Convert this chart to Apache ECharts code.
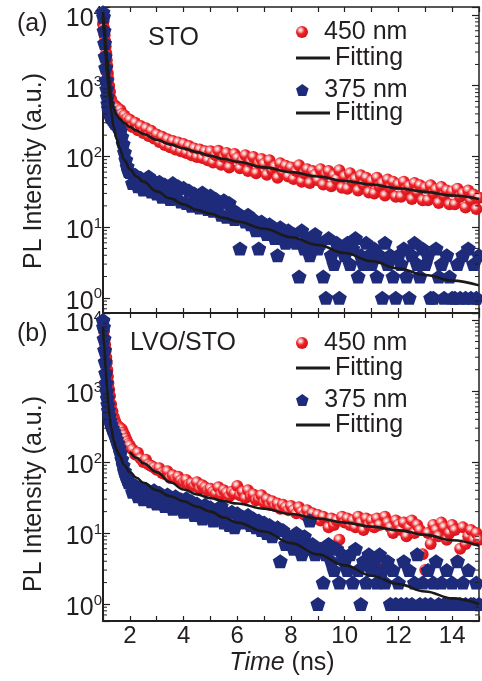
<!DOCTYPE html>
<html>
<head>
<meta charset="utf-8">
<script src="https://cdn.jsdelivr.net/npm/echarts@6/dist/echarts.min.js"></script>
<style>
html, body { margin: 0; padding: 0; background: #fff; }
#chart { width: 482px; height: 681px; }
</style>
</head>
<body>
<div id="chart"></div>
<script>
// sampling times (ns), dense at the start of the decay
var times = [1.00, 1.02, 1.04, 1.06, 1.08, 1.10, 1.12, 1.14, 1.16, 1.18, 1.20, 1.23, 1.26, 1.30,
  1.35, 1.40, 1.45, 1.50, 1.55, 1.60, 1.65, 1.70, 1.75, 1.80, 1.85, 1.90, 1.95,
  2.0, 2.1, 2.2, 2.3, 2.4, 2.5, 2.6, 2.7, 2.8, 2.9,
  3.0, 3.1, 3.2, 3.3, 3.4, 3.5, 3.6, 3.7, 3.8, 3.9,
  4.0, 4.1, 4.2, 4.3, 4.4, 4.5, 4.6, 4.7, 4.8, 4.9,
  5.0, 5.1, 5.2, 5.3, 5.4, 5.5, 5.6, 5.7, 5.8, 5.9,
  6.0, 6.1, 6.2, 6.3, 6.4, 6.5, 6.6, 6.7, 6.8, 6.9,
  7.0, 7.1, 7.2, 7.3, 7.4, 7.5, 7.6, 7.7, 7.8, 7.9,
  8.0, 8.1, 8.2, 8.3, 8.4, 8.5, 8.6, 8.7, 8.8, 8.9,
  9.0, 9.1, 9.2, 9.3, 9.4, 9.5, 9.6, 9.7, 9.8, 9.9,
  10.0, 10.1, 10.2, 10.3, 10.4, 10.5, 10.6, 10.7, 10.8, 10.9,
  11.0, 11.1, 11.2, 11.3, 11.4, 11.5, 11.6, 11.7, 11.8, 11.9,
  12.0, 12.1, 12.2, 12.3, 12.4, 12.5, 12.6, 12.7, 12.8, 12.9,
  13.0, 13.1, 13.2, 13.3, 13.4, 13.5, 13.6, 13.7, 13.8, 13.9,
  14.0, 14.1, 14.2, 14.3, 14.4, 14.5, 14.6, 14.7, 14.8, 14.9,
  15.0];

// (a) STO
var sto450 = [7500, 8200, 6500, 5200, 4300, 3600, 2900, 2300, 1900, 1500, 1250, 1000, 820, 650,
  560, 540, 520, 500, 480, 430, 455, 400, 360, 380, 330, 345, 300,
  330, 260, 300, 235, 270, 215, 250, 195, 230, 180,
  205, 160, 190, 145, 175, 135, 165, 125, 158, 118,
  150, 112, 140, 104, 130, 98, 125, 95, 118, 88,
  118, 82, 104, 120, 76, 98, 112, 70, 95, 108,
  95, 68, 88, 104, 62, 84, 98, 58, 80, 92,
  78, 55, 88, 64, 72, 50, 80, 60, 74, 52,
  70, 48, 62, 75, 44, 58, 66, 42, 62, 55,
  46, 66, 40, 56, 62, 38, 54, 48, 64, 36,
  52, 35, 58, 44, 48, 33, 54, 40, 50, 31,
  45, 30, 50, 38, 42, 28, 47, 36, 44, 27,
  40, 27, 44, 34, 38, 25, 42, 31, 39, 24,
  36, 24, 39, 30, 34, 22, 37, 28, 33, 21,
  32, 21, 35, 27, 30, 19, 33, 24, 29, 18,
  26];
var sto375 = [11000, 9500, 6000, 4000, 2600, 1800, 1200, 900, 700, 560, 480, 430, 390, 360,
  340, 320, 300, 290, 270, 250, 230, 190, 150, 115, 90, 72, 62,
  60, 42, 55, 38, 50, 34, 47, 52, 32, 45,
  30, 44, 27, 40, 35, 25, 42, 28, 38, 23,
  36, 22, 33, 20, 30, 26, 19, 31, 24, 18,
  28, 17, 25, 21, 15, 24, 14, 22, 18, 13,
  16, 5, 14, 12, 15, 11, 13, 9, 5, 12,
  10, 8, 11, 9, 7, 4, 10, 8, 6, 9,
  7, 8, 6, 2, 9, 5, 7, 4, 6, 8,
  5, 6, 2, 1, 7, 4, 3, 6, 1, 5,
  4, 6, 3, 5, 7, 2, 4, 3, 6, 4,
  3, 5, 2, 4, 1, 6, 3, 4, 2, 1,
  4, 3, 5, 2, 1, 4, 6, 3, 2, 5,
  3, 4, 1, 1, 5, 2, 3, 1, 4, 2,
  1, 1, 3, 1, 4, 1, 5, 1, 3, 1,
  4];

// (b) LVO/STO
var lvo450 = [8000, 8500, 7000, 5500, 4500, 3700, 3000, 2500, 2000, 1600, 1300, 1050, 850, 650,
  520, 430, 380, 340, 320, 310, 300, 290, 260, 240, 215, 195, 180,
  170, 150, 128, 135, 112, 100, 108, 92, 88, 84,
  78, 82, 70, 68, 74, 60, 65, 58, 62, 55,
  52, 56, 48, 50, 46, 52, 42, 47, 44, 40,
  42, 38, 36, 44, 35, 40, 37, 33, 38, 36,
  46, 34, 38, 31, 40, 33, 35, 29, 30, 34,
  27, 30, 25, 28, 24, 26, 22, 25, 23, 21,
  24, 21, 19, 23, 20, 18, 21, 17, 19, 16,
  18, 15, 17, 6, 12, 16, 13, 15, 8, 17,
  14, 16, 13, 15, 12, 17, 14, 11, 16, 13,
  15, 12, 16, 13, 4, 17, 14, 12, 10, 15,
  13, 11, 14, 9, 12, 15, 10, 13, 11, 5,
  3, 10, 7, 13, 11, 9, 14, 12, 8, 10,
  13, 11, 4, 6, 12, 7, 9, 11, 8, 10,
  8];
var lvo375 = [10000, 8000, 5500, 3800, 2600, 1800, 1300, 1000, 800, 650, 540, 450, 390, 340,
  300, 270, 240, 210, 185, 160, 135, 110, 90, 75, 65, 58, 52,
  52, 38, 47, 33, 44, 30, 42, 36, 28, 40,
  26, 37, 30, 24, 35, 27, 22, 33, 25, 30,
  20, 31, 23, 28, 18, 26, 21, 16, 25, 19,
  23, 15, 21, 17, 24, 14, 19, 13, 20, 12,
  19, 15, 17, 14, 18, 13, 16, 12, 15, 11,
  14, 10, 13, 9, 11, 12, 4, 11, 7, 9,
  8, 6, 10, 7, 5, 9, 6, 15, 7, 5,
  1, 6, 2, 5, 7, 4, 3, 6, 2, 5,
  4, 3, 5, 2, 6, 3, 1, 4, 2, 5,
  3, 4, 2, 5, 3, 2, 4, 1, 3, 1,
  2, 1, 4, 1, 3, 1, 2, 5, 1, 2,
  1, 3, 1, 2, 4, 1, 2, 1, 3, 1,
  2, 1, 4, 1, 2, 1, 3, 1, 1, 2,
  1];

// fitted curves
var fitTimes = [1.0, 1.05, 1.1, 1.15, 1.2, 1.25, 1.3, 1.4, 1.5, 1.6, 1.8, 2.0, 2.25, 2.5, 3.0,
  3.5, 4.0, 4.5, 5.0, 5.5, 6.0, 7, 8, 9, 10, 11, 12, 13, 14, 15];
var stoFit450 = [11000, 7000, 4000, 2500, 1600, 1000, 700, 470, 390, 345, 295, 262, 232, 208, 172,
  148, 130, 115, 102, 92, 84, 70, 60, 52, 45, 40, 35.5, 31.5, 28, 25];
var stoFit375 = [9500, 5000, 2600, 1500, 1000, 650, 450, 260, 180, 135, 88, 66, 52, 44, 32,
  25.5, 21, 17.5, 15.5, 13.5, 12, 9.5, 7.2, 5.6, 4.3, 3.3, 2.6, 2.1, 1.75, 1.5];
var lvoFit450 = [null, null, null, null, null, null, null, null, null, null, null, 140, 115, 96, 72,
  52, 41, 35, 31, 28, 26, 22, 18.5, 16, 14, 12.3, 10.9, 9.4, 7.9, 6.6];
var lvoFit375 = [8000, 4000, 2000, 1100, 650, 430, 310, 200, 150, 125, 90, 72, 60, 51, 40,
  33, 28, 23.5, 20, 16.5, 14, 10.5, 7.2, 5, 3.5, 2.5, 1.9, 1.5, 1.2, 1.0];

// minor ticks of the log axes
var minorTicks = [0.7, 0.8, 0.9, 2, 3, 4, 5, 6, 7, 8, 9, 20, 30, 40, 50, 60, 70, 80, 90,
  200, 300, 400, 500, 600, 700, 800, 900, 2000, 3000, 4000, 5000, 6000, 7000, 8000, 9000];

var legendNames = ['450 nm', 'Fitting', '375 nm', 'Fitting '];

var FONT = '"Liberation Sans", Arial, Helvetica, sans-serif';
var INK = '#231f20';
var NAVY = '#1e2b7a';
var PENTAGON = 'path://M50,0 L97.6,34.5 L79.4,90.5 L20.6,90.5 L2.4,34.5 Z';
var sphere = {
  type: 'radial', x: 0.38, y: 0.34, r: 0.66,
  colorStops: [
    { offset: 0, color: '#ffffff' },
    { offset: 0.25, color: '#f7a3a3' },
    { offset: 0.5, color: '#ee2228' },
    { offset: 1, color: '#d3121a' }
  ]
};

function pairs(xs, ys) {
  var out = [];
  for (var i = 0; i < xs.length; i++) {
    if (ys[i] != null) out.push([xs[i], ys[i]]);
  }
  return out;
}

function decadeLabel(v) {
  var p = Math.log(v) / Math.LN10;
  var n = Math.round(p);
  if (Math.abs(p - n) > 1e-6) return '';
  return '{b|10}{e|' + n + '}';
}

function xAx(grid, pos, labels) {
  return {
    type: 'value', gridIndex: grid, position: pos, min: 1, max: 15, interval: 1,
    axisLine: { onZero: false, lineStyle: { color: INK, width: pos === 'bottom' ? 2 : 1.5 } },
    axisTick: { inside: true, length: 5, lineStyle: { color: INK, width: 1.2 } },
    axisLabel: {
      show: labels, margin: 3, fontSize: 24, fontFamily: FONT, color: INK,
      formatter: function (v) { return v % 2 === 0 ? String(v) : ''; }
    },
    splitLine: { show: false }
  };
}

function yAx(grid, pos, min, max) {
  var left = pos === 'left';
  return {
    type: 'log', logBase: 10, gridIndex: grid, position: pos, min: min, max: max,
    axisLine: { show: true, onZero: false, lineStyle: { color: INK, width: left ? 2 : 1.5 } },
    axisTick: { show: true, inside: true, length: 7, lineStyle: { color: INK, width: 1.2 } },
    axisLabel: {
      show: left, margin: 1, padding: [8, 0, 0, 0], formatter: decadeLabel,
      rich: {
        b: { fontSize: 25, lineHeight: 30, fontFamily: FONT, color: INK },
        e: { fontSize: 15, lineHeight: 18, verticalAlign: 'top', fontFamily: FONT, color: INK }
      }
    },
    splitLine: { show: false }
  };
}

function minorTickItem(params, api) {
  var v = api.value(1);
  var l = api.coord([1, v]);
  var r = api.coord([15, v]);
  return {
    type: 'group',
    children: [
      { type: 'line', shape: { x1: l[0], y1: l[1], x2: l[0] + 4, y2: l[1] }, style: { stroke: INK, lineWidth: 1 } },
      { type: 'line', shape: { x1: r[0], y1: r[1], x2: r[0] - 4, y2: r[1] }, style: { stroke: INK, lineWidth: 1 } }
    ]
  };
}

function panelSeries(g, red, blue, fitRed, fitBlue) {
  return [
    {
      name: legendNames[0], type: 'scatter', xAxisIndex: g * 2, yAxisIndex: g * 2,
      data: pairs(times, red), symbol: 'circle', symbolSize: 12,
      itemStyle: { color: sphere, opacity: 1 }, z: 2
    },
    {
      name: legendNames[2], type: 'scatter', xAxisIndex: g * 2, yAxisIndex: g * 2,
      data: pairs(times, blue), symbol: PENTAGON, symbolSize: [15, 14],
      itemStyle: { color: NAVY, opacity: 1 }, z: 2
    },
    {
      name: legendNames[1], type: 'line', xAxisIndex: g * 2, yAxisIndex: g * 2,
      data: pairs(fitTimes, fitRed), symbol: 'none', smooth: 0.4, smoothMonotone: 'x',
      lineStyle: { color: '#1a1a1a', width: 2.6 }, itemStyle: { color: '#1a1a1a' }, z: 3
    },
    {
      name: legendNames[3], type: 'line', xAxisIndex: g * 2, yAxisIndex: g * 2,
      data: pairs(fitTimes, fitBlue), symbol: 'none', smooth: 0.4, smoothMonotone: 'x',
      lineStyle: { color: '#1a1a1a', width: 2.6 }, itemStyle: { color: '#1a1a1a' }, z: 3
    },
    {
      type: 'custom', xAxisIndex: g * 2, yAxisIndex: g * 2, silent: true, z: 4,
      data: minorTicks.map(function (v) { return [1, v]; }),
      renderItem: minorTickItem
    }
  ];
}

// one legend per entry so each row sits where it does in the figure
function legendItem(name, top) {
  var isFit = name.indexOf('Fitting') === 0;
  return {
    data: [isFit ? { name: name, icon: 'rect' } : name],
    orient: 'vertical', left: 296, top: top, padding: 0,
    itemWidth: 34, itemHeight: isFit ? 3 : 12, selectedMode: false,
    textStyle: { fontSize: 25, lineHeight: 25, fontFamily: FONT, color: INK }
  };
}

function label(x, y, text, extra) {
  var el = {
    type: 'text', x: x, y: y, z: 10,
    style: { text: text, fontSize: 25, fontFamily: FONT, fill: INK, verticalAlign: 'middle', align: 'left' }
  };
  if (extra) {
    for (var k in extra) el[k] = extra[k];
  }
  return el;
}

var legendTopsA = [19.5, 45.5, 77.5, 100.5];
var legendTopsB = [330.5, 355.5, 387.5, 412.5];
var legends = [];
for (var i = 0; i < legendNames.length; i++) {
  legends.push(legendItem(legendNames[i], legendTopsA[i]));
  legends.push(legendItem(legendNames[i], legendTopsB[i]));
}

var chart = echarts.init(document.getElementById('chart'));
var option = {
  animation: false,
  backgroundColor: '#fff',
  grid: [
    { left: 103, top: 7, width: 376, height: 306, outerBoundsMode: 'none' },
    { left: 103, top: 313, width: 376, height: 308, outerBoundsMode: 'none' }
  ],
  xAxis: [
    xAx(0, 'bottom', false), xAx(0, 'top', false),
    xAx(1, 'bottom', true), xAx(1, 'top', false)
  ],
  yAxis: [
    yAx(0, 'left', 0.61, 13000), yAx(0, 'right', 0.61, 13000),
    yAx(1, 'left', 0.575, 12600), yAx(1, 'right', 0.575, 12600)
  ],
  legend: legends,
  series: panelSeries(0, sto450, sto375, stoFit450, stoFit375)
    .concat(panelSeries(1, lvo450, lvo375, lvoFit450, lvoFit375)),
  graphic: [
    label(17, 24, '(a)'),
    label(17, 334, '(b)'),
    label(148, 38, 'STO'),
    label(130, 343, 'LVO/STO'),
    label(34, 171, '', { rotation: Math.PI / 2, style: { text: 'PL Intensity (a.u.)', fontSize: 25, fontFamily: FONT, fill: INK, align: 'center', verticalAlign: 'middle' } }),
    label(34, 494, '', { rotation: Math.PI / 2, style: { text: 'PL Intensity (a.u.)', fontSize: 25, fontFamily: FONT, fill: INK, align: 'center', verticalAlign: 'middle' } }),
    {
      type: 'text', x: 282, y: 663, z: 10,
      style: {
        text: '{i|Time} (ns)', fontSize: 25, fontFamily: FONT, fill: INK, align: 'center', verticalAlign: 'middle',
        rich: { i: { fontStyle: 'italic', fontSize: 25, fontFamily: FONT, fill: INK } }
      }
    }
  ]
};
chart.setOption(option);
</script>
</body>
</html>
